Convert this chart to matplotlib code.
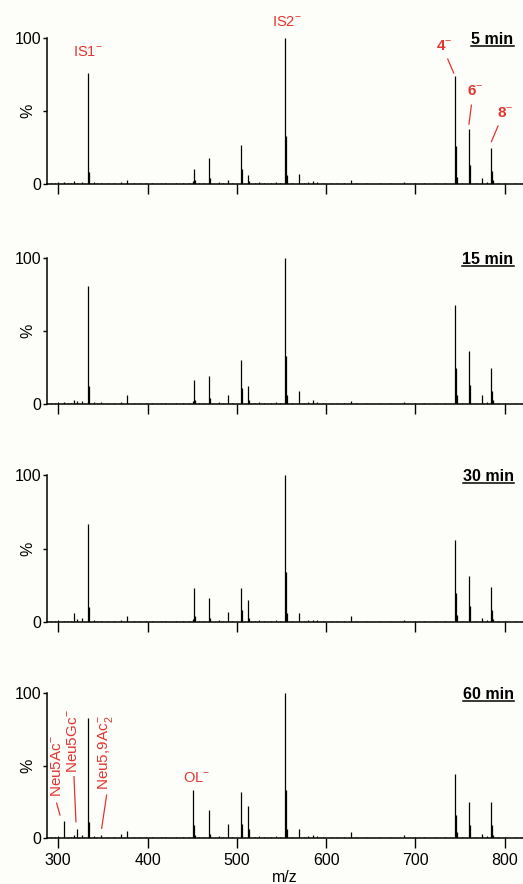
import matplotlib
matplotlib.use('Agg')
import matplotlib.pyplot as plt
from matplotlib.lines import Line2D

plt.rcParams['font.family'] = ['Liberation Sans', 'DejaVu Sans']
plt.rcParams['mathtext.fontset'] = 'custom'
plt.rcParams['mathtext.rm'] = 'Liberation Sans'
plt.rcParams['mathtext.bf'] = 'Liberation Sans:bold'

rojo = '#e3342f'
fondo = '#fdfdfa'

# picos principales (m/z) y alturas (%) de cada espectro
picos_mz = [306, 317.5, 321.5, 327, 333, 334, 348, 370, 377.5, 450.5, 452.5, 453.5,
            469, 470, 490, 505, 506, 513, 514, 554, 555, 556, 570, 585, 627.5, 687,
            744.5, 745.5, 746.5, 760, 761, 775, 785, 786, 787]

int_5min = [1.5, 2, 1, 1.5, 76, 8, 1, 1.5, 3, 2, 10, 3,
            18, 4, 3, 27, 10, 6, 2, 100, 33, 6, 7, 2, 3, 1.5,
            74, 26, 5, 37.5, 13, 4, 25, 9, 3]
int_15min = [1.5, 3, 2, 2, 81, 12, 1.5, 1.5, 6, 2, 16.5, 3,
             19, 4, 6, 30, 11, 12, 3, 100, 33, 6, 9, 2.5, 2, 1.5,
             68, 25, 6, 36.5, 13, 6, 25, 9, 3]
int_30min = [1, 6, 2, 3, 67, 10, 1, 1.5, 4, 2, 23, 4,
             16, 3, 7, 23, 8, 15, 3, 100, 34, 6, 6, 1.5, 4, 1.5,
             56, 20, 5, 31, 11, 3, 24, 8, 2]
int_60min = [12, 2, 6, 2, 83, 11, 2, 3, 5, 33, 9, 2,
             19, 3, 10, 31.5, 10, 22, 6, 100, 33, 6, 6, 2, 4, 2,
             44, 16, 4, 25, 9, 3, 25, 9, 2]

# ruido de fondo (igual en los cuatro)
ruido_mz = [292, 296, 300, 311, 314, 340, 343, 356, 362, 385, 392, 398, 405, 415,
            420, 432, 440, 446, 458, 462, 480, 484, 495, 520, 525, 530, 538, 544,
            548, 562, 575, 580, 590, 597, 605, 612, 620, 633, 645, 660, 672, 700,
            710, 722, 733, 752, 768, 780, 792, 800, 812, 818]
ruido_int = [1, 0.8, 1.2, 0.8, 1, 1.5, 0.8, 0.6, 0.8, 1, 0.6, 0.8, 0.5, 1,
             0.7, 0.5, 0.6, 1, 0.8, 0.6, 1.2, 0.7, 1, 0.8, 1.2, 0.6, 0.8, 1.5,
             0.8, 0.8, 0.6, 1.5, 1.2, 0.6, 0.8, 0.5, 0.6, 1, 0.5, 0.5, 0.6, 0.5,
             0.6, 1, 0.5, 0.8, 0.6, 1.5, 1, 0.8, 0.6, 1]

tiempos = ['5 min', '15 min', '30 min', '60 min']
espectros = [int_5min, int_15min, int_30min, int_60min]

fig = plt.figure(figsize=(5.23, 8.84), dpi=100, facecolor=fondo)

W, H = 523.0, 884.0
izq = 47 / W
ancho = 476 / W
# (pixel del 0, pixel del 100) de cada panel
filas = [(184, 38), (404, 258), (622, 475), (838, 693)]

ejes = []
titulos = []
for i in range(4):
    y0, y1 = filas[i]
    ax = fig.add_axes([izq, (H - y0) / H, ancho, (y0 - y1) / H])
    ax.set_facecolor(fondo)
    ax.vlines(ruido_mz, 0, ruido_int, color='black', lw=0.8)
    ax.vlines(picos_mz, 0, espectros[i], color='black', lw=0.9)
    ax.set_xlim(287.4, 820.5)
    ax.set_ylim(0, 100)
    for s in ['top', 'right']:
        ax.spines[s].set_visible(False)
    ax.spines['left'].set_linewidth(1.1)
    ax.spines['bottom'].set_linewidth(1.1)
    ax.set_xticks([300, 400, 500, 600, 700, 800])
    ax.set_yticks([0, 50, 100])
    ax.set_yticklabels(['0', '', '100'])
    ax.tick_params(axis='x', direction='out', length=7, width=1, pad=4, labelsize=11.5)
    ax.tick_params(axis='y', direction='out', length=3, width=1, pad=1, labelsize=11.5)
    ax.set_ylabel('%', fontsize=11.5)
    ax.yaxis.set_label_coords(-0.025, 0.5)
    if i < 3:
        ax.set_xticklabels([])
    else:
        ax.set_xlabel('m/z', fontsize=11.5, labelpad=1)
    t = ax.text(810, 96, tiempos[i], ha='right', va='baseline',
                fontsize=11.5, fontweight='bold')
    titulos.append(t)
    ejes.append(ax)

# etiquetas del primer espectro
ax = ejes[0]
ax.text(316.5, 90, 'IS1$^{-}$', color=rojo, fontsize=10.5, va='center', ha='left')
ax.text(539.3, 110.6, 'IS2$^{-}$', color=rojo, fontsize=10.5, va='center', ha='left')
ax.text(723.5, 93.8, '4$^{-}$', color=rojo, fontsize=11, fontweight='bold', va='center', ha='left')
ax.text(758.0, 63.4, '6$^{-}$', color=rojo, fontsize=11, fontweight='bold', va='center', ha='left')
ax.text(791.5, 48, '8$^{-}$', color=rojo, fontsize=11, fontweight='bold', va='center', ha='left')
ax.plot([736.2, 742.9], [85.6, 76], color=rojo, lw=0.9)
ax.plot([762.7, 760.0], [54, 41], color=rojo, lw=0.9)
ax.plot([792.5, 785.1], [39.7, 29], color=rojo, lw=0.9)

# etiquetas del ultimo espectro (giradas)
ax = ejes[3]
ax.text(304.3, 28.3, 'Neu5Ac$^{-}$', color=rojo, fontsize=11, rotation=90,
        rotation_mode='anchor', ha='left', va='baseline')
ax.text(322.3, 44.8, 'Neu5Gc$^{-}$', color=rojo, fontsize=11, rotation=90,
        rotation_mode='anchor', ha='left', va='baseline')
ax.text(356.5, 33, 'Neu5,9Ac$_{2}^{-}$', color=rojo, fontsize=11, rotation=90,
        rotation_mode='anchor', ha='left', va='baseline')
ax.text(439.6, 41, 'OL$^{-}$', color=rojo, fontsize=10.5, va='center', ha='left')
ax.plot([298.2, 301.9], [24, 15.9], color=rojo, lw=0.9)
ax.plot([317.6, 319.8], [42.3, 11.2], color=rojo, lw=0.9)
ax.plot([354.2, 348.6], [29.6, 6.7], color=rojo, lw=0.9)

# subrayado de los tiempos
fig.canvas.draw()
rend = fig.canvas.get_renderer()
inv = fig.transFigure.inverted()
for t in titulos:
    bb = t.get_window_extent(rend)
    (x0, yb), (x1, _) = inv.transform([[bb.x0, bb.y0 + 1], [bb.x1, bb.y1]])
    fig.add_artist(Line2D([x0, x1], [yb, yb], transform=fig.transFigure,
                          color='black', lw=1.1))

fig.savefig('out.png', dpi=100, facecolor=fondo)
